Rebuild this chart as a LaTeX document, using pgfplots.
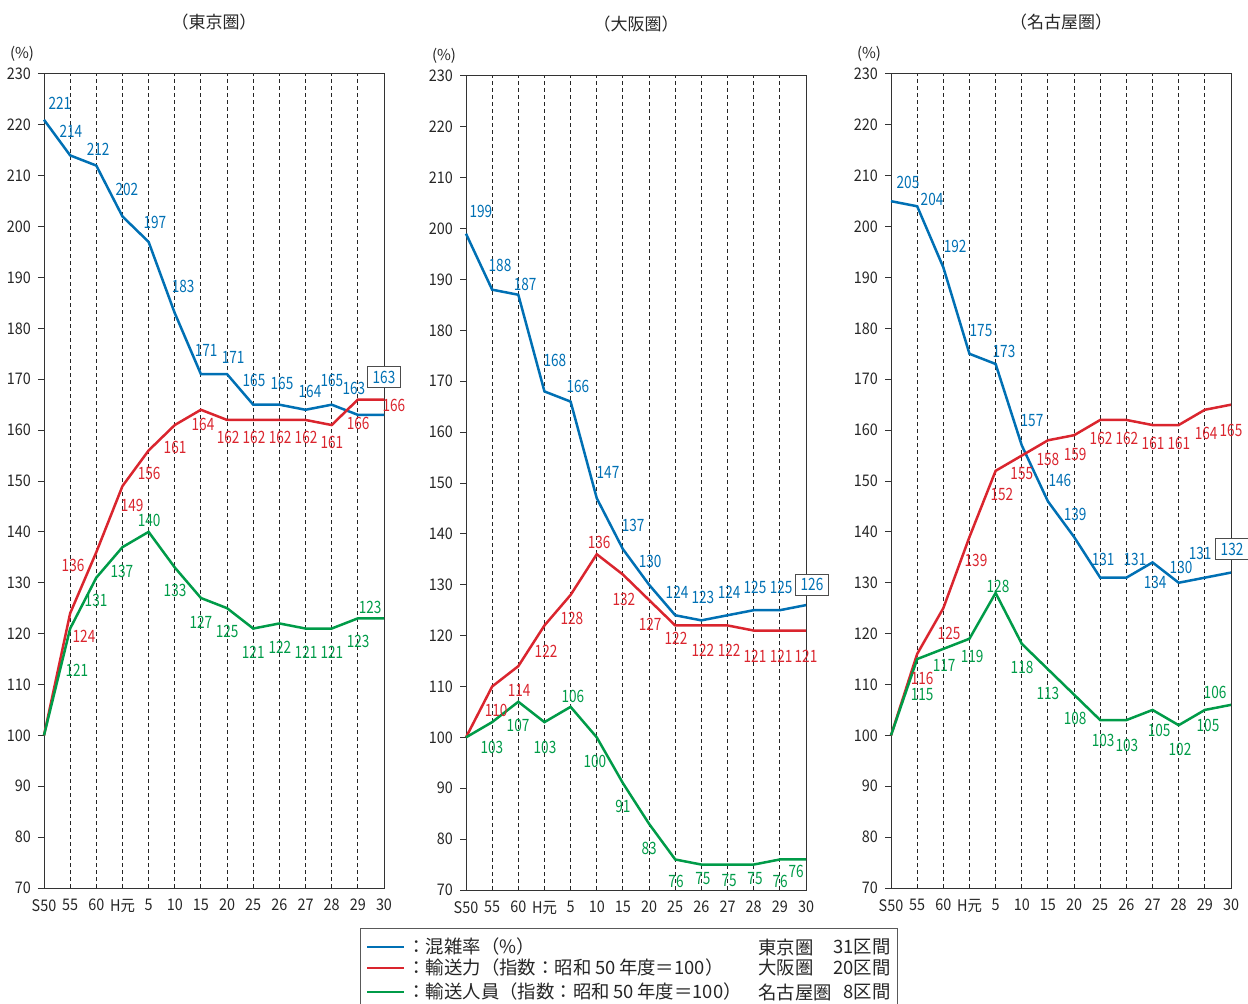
\documentclass[border=0pt]{standalone}
\usepackage{fontspec}
\setmainfont{Noto Sans CJK JP}
\newfontfamily\lblfont[FakeStretch=0.8]{Noto Sans CJK JP}
\newfontfamily\tickfont[FakeStretch=0.9]{Noto Sans CJK JP}
\usepackage{pgfplots}
\pgfplotsset{compat=1.18}
\usepackage{pgfplotstable}

\definecolor{cblue}{RGB}{0,112,180}
\definecolor{cred}{RGB}{218,37,46}
\definecolor{cgreen}{RGB}{0,155,72}

% x: 0=S50 1=55 2=60 3=H元 4=5 5=10 6=15 7=20 8=25 9=26 10=27 11=28 12=29 13=30
\pgfplotstableread{
x  kon  yuso  jin
0  221  100   100
1  214  124   121
2  212  136   131
3  202  149   137
4  197  156   140
5  183  161   133
6  171  164   127
7  171  162   125
8  165  162   121
9  165  162   122
10 164  162   121
11 165  161   121
12 163  166   123
13 163  166   123
}\tokyo

\pgfplotstableread{
x  kon  yuso  jin
0  199  100   100
1  188  110   103
2  187  114   107
3  168  122   103
4  166  128   106
5  147  136   100
6  137  132   91
7  130  127   83
8  124  122   76
9  123  122   75
10 124  122   75
11 125  121   75
12 125  121   76
13 126  121   76
}\osaka

\pgfplotstableread{
x  kon  yuso  jin
0  205  100   100
1  204  116   115
2  192  125   117
3  175  139   119
4  173  152   128
5  157  155   118
6  146  158   113
7  139  159   108
8  131  162   103
9  131  162   103
10 134  161   105
11 130  161   102
12 131  164   105
13 132  165   106
}\nagoya

\pgfplotsset{
  panel/.style={
    scale only axis, width=170pt, height=407pt,
    anchor=south west,
    xmin=0, xmax=13, ymin=70, ymax=230,
    ytick={70,80,...,230},
    xtick={0,...,13},
    xticklabels={S50,55,60,H元,5,10,15,20,25,26,27,28,29,30},
    xmajorgrids,
    major x grid style={black!85, line width=0.45pt, dash pattern=on 2pt off 1.5pt},
    axis line style={black!80, line width=0.5pt},
    ytick pos=left, ytick align=outside,
    major tick length=3pt,
    tick style={black!80, line width=0.5pt},
    xtick style={draw=none},
    tick label style={font=\tickfont\fontsize{8}{9}\selectfont, text=black!85},
    xticklabel style={yshift=-2pt},
    /pgf/number format/assume math mode=true,
    clip=false,
  },
  ln/.style={#1, line width=1.25pt, mark=none},
  lbl/.style={draw=none, mark=none, nodes near coords, point meta=explicit symbolic,
    every node near coord/.append style={anchor=center, inner sep=0pt,
      font=\lblfont\fontsize{8.5}{9}\selectfont, text=#1}},
  boxlbl/.style={draw=none, mark=none, nodes near coords, point meta=explicit symbolic,
    every node near coord/.append style={anchor=center, draw=black!70, fill=white,
      line width=0.5pt, inner xsep=2.5pt, inner ysep=2pt,
      font=\lblfont\fontsize{8.5}{9}\selectfont, text=cblue}},
}

\newcommand{\paneldeco}[1]{%
  \node[font=\fontsize{8.5}{10}\selectfont, text=black!85] at (rel axis cs:0.5,1) [yshift=26pt] {#1};
  \node[font=\fontsize{7.5}{8}\selectfont, text=black!85] at (rel axis cs:0,1) [xshift=-11pt, yshift=10pt] {(\%)};
}

\begin{document}
\begin{tikzpicture}
\useasboundingbox (0,0) rectangle (624pt,501.5pt);

% ---------------- Tokyo
\begin{axis}[panel, at={(22pt,57.5pt)}]
\addplot[ln=cblue] table[x=x,y=kon] {\tokyo};
\addplot[ln=cred] table[x=x,y=yuso] {\tokyo};
\addplot[ln=cgreen] table[x=x,y=jin] {\tokyo};
\addplot[lbl=cblue] table[x=lx,y=ly,meta=t] {
lx ly t
0.61 224.3 221
1.03 218.8 214
2.07 215.1 212
3.17 207.4 202
4.24 200.9 197
5.32 188.3 183
6.20 175.6 171
7.23 174.2 171
8.03 169.7 165
9.10 169.1 165
10.17 167.7 164
11.01 169.7 165
11.85 168.1 163
};
\addplot[boxlbl] table[x=lx,y=ly,meta=t] {
lx ly t
13.0 170.4 163
};
\addplot[lbl=cred] table[x=lx,y=ly,meta=t] {
lx ly t
1.11 133.5 136
1.53 119.4 124
3.37 145.1 149
4.02 151.4 156
5.01 156.5 161
6.08 161.2 164
7.04 158.5 162
8.03 158.5 162
9.03 158.5 162
10.02 158.5 162
11.01 157.5 161
12.01 161.4 166
13.38 164.8 166
};
\addplot[lbl=cgreen] table[x=lx,y=ly,meta=t] {
lx ly t
1.26 112.7 121
1.99 126.5 131
2.98 132.3 137
4.02 142.2 140
5.01 128.4 133
6.00 122.3 127
7.00 120.4 125
8.00 116.4 121
9.02 117.4 122
10.02 116.4 121
11.01 116.4 121
12.01 118.4 123
12.47 125.1 123
};
\paneldeco{（東京圏）}
\end{axis}

% ---------------- Osaka
\begin{axis}[panel, at={(233pt,56.5pt)}]
\addplot[ln=cblue] table[x=x,y=kon] {\osaka};
\addplot[ln=cred] table[x=x,y=yuso] {\osaka};
\addplot[ln=cgreen] table[x=x,y=jin] {\osaka};
\addplot[lbl=cblue] table[x=lx,y=ly,meta=t] {
lx ly t
0.57 203.3 199
1.30 192.7 188
2.26 189.1 187
3.40 174.0 168
4.28 168.9 166
5.43 152.0 147
6.39 141.6 137
7.04 134.5 130
8.07 128.6 124
9.06 127.6 123
10.06 128.6 124
11.05 129.4 125
12.05 129.4 125
};
\addplot[boxlbl] table[x=lx,y=ly,meta=t] {
lx ly t
13.23 130.0 126
};
\addplot[lbl=cred] table[x=lx,y=ly,meta=t] {
lx ly t
1.15 105.2 110
2.03 109.2 114
3.06 117.0 122
4.05 123.3 128
5.09 138.3 136
6.04 127.2 132
7.04 122.3 127
8.03 119.4 122
9.06 117.2 122
10.06 117.2 122
11.05 116.0 121
12.05 116.0 121
13.00 116.0 121
};
\addplot[lbl=cgreen] table[x=lx,y=ly,meta=t] {
lx ly t
0.99 98.1 103
1.99 102.3 107
3.02 98.1 103
4.09 108.0 106
4.93 95.2 100
6.00 86.4 91
7.00 78.1 83
8.03 71.6 76
9.06 72.2 75
10.06 71.8 75
11.05 72.2 75
12.01 71.6 76
12.62 73.6 76
};
\paneldeco{（大阪圏）}
\end{axis}

% ---------------- Nagoya
\begin{axis}[panel, at={(445.5pt,57.5pt)}]
\addplot[ln=cblue] table[x=x,y=kon] {\nagoya};
\addplot[ln=cred] table[x=x,y=yuso] {\nagoya};
\addplot[ln=cgreen] table[x=x,y=jin] {\nagoya};
\addplot[lbl=cblue] table[x=lx,y=ly,meta=t] {
lx ly t
0.65 208.6 205
1.57 205.4 204
2.45 196.2 192
3.44 179.5 175
4.32 175.4 173
5.39 161.8 157
6.46 150.2 146
7.04 143.5 139
8.11 134.5 131
9.33 134.5 131
10.10 130.0 134
11.09 133.1 130
11.82 135.7 131
};
\addplot[boxlbl] table[x=lx,y=ly,meta=t] {
lx ly t
13.04 136.6 132
};
\addplot[lbl=cred] table[x=lx,y=ly,meta=t] {
lx ly t
1.19 111.1 116
2.22 120.1 125
3.25 134.3 139
4.24 147.3 152
5.00 151.4 155
6.00 154.3 158
7.04 155.3 159
8.03 158.3 162
9.02 158.3 162
10.02 157.3 161
11.01 157.3 161
12.05 159.3 164
13.00 160.0 165
};
\addplot[lbl=cgreen] table[x=lx,y=ly,meta=t] {
lx ly t
1.19 108.0 115
2.03 113.7 117
3.10 115.6 119
4.09 129.2 128
5.01 113.3 118
6.00 108.2 113
7.04 103.3 108
8.11 99.1 103
9.02 98.1 103
10.25 100.9 105
11.05 97.2 102
12.12 101.9 105
12.39 108.4 106
};
\paneldeco{（名古屋圏）}
\end{axis}

% ---------------- legend
\draw[black!65, line width=0.5pt] (180pt,-5pt) |- (448.5pt,37.5pt) -- (448.5pt,-5pt);
\draw[cblue, line width=1.25pt] (183.5pt,28pt) -- (202pt,28pt);
\draw[cred, line width=1.25pt] (183.5pt,17.5pt) -- (202pt,17.5pt);
\draw[cgreen, line width=1.25pt] (183.5pt,5.5pt) -- (202pt,5.5pt);
\begin{scope}[every node/.style={font=\fontsize{9.2}{10}\selectfont, text=black!85, inner sep=0pt}]
\node[anchor=west] at (203.5pt,28pt) {：混雑率（\%）};
\node[anchor=west] at (203.5pt,17.5pt) {：輸送力（指数：昭和\hspace{0.2em}50\hspace{0.2em}年度＝100）};
\node[anchor=west] at (203.5pt,5.5pt) {：輸送人員（指数：昭和\hspace{0.2em}50\hspace{0.2em}年度＝100）};
\node[anchor=west] at (379pt,28pt) {東京圏};
\node[anchor=west] at (379pt,17.5pt) {大阪圏};
\node[anchor=west] at (379pt,5.5pt) {名古屋圏};
\node[anchor=east] at (445.5pt,28pt) {31区間};
\node[anchor=east] at (445.5pt,17.5pt) {20区間};
\node[anchor=east] at (445.5pt,5.5pt) {8区間};
\end{scope}
\end{tikzpicture}
\end{document}
